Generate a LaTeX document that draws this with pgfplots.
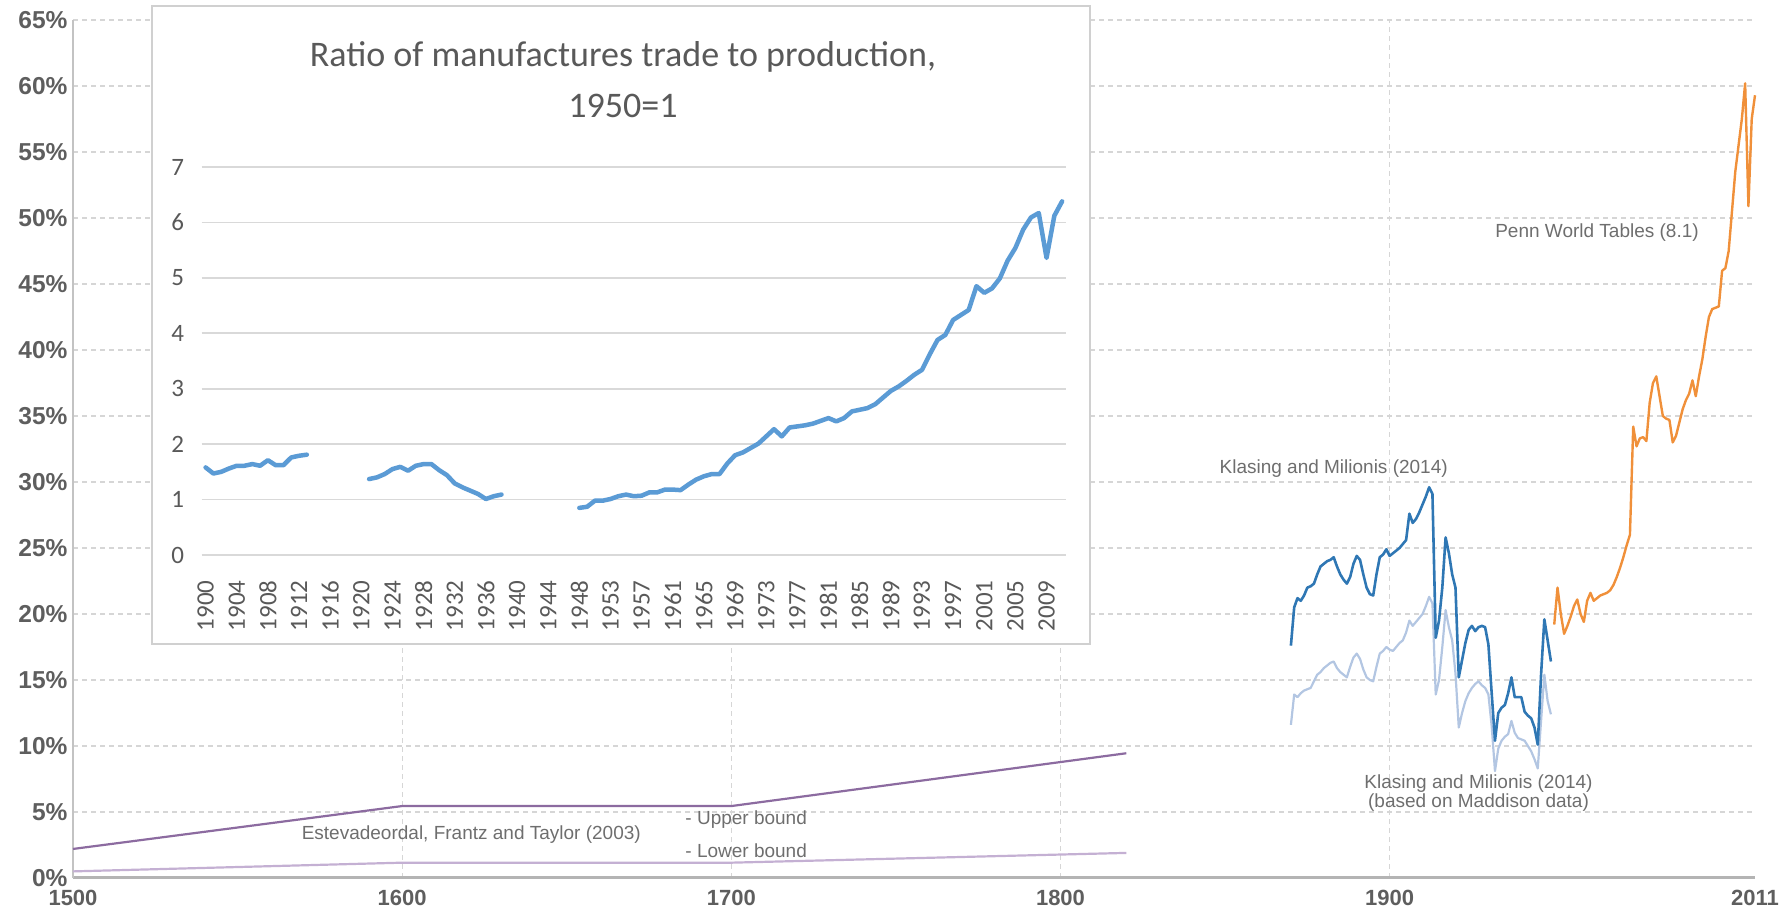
\documentclass[border=0pt]{standalone}
\usepackage{fontspec}
\setmainfont{Liberation Sans}
\newfontfamily\carlito{Carlito}
\usepackage{pgfplots}
\usepackage{pgfplotstable}
\pgfplotsset{compat=1.18}

\definecolor{axisgray}{HTML}{B4B4B4}
\definecolor{gridgray}{HTML}{D6D6D6}
\definecolor{tickgray}{HTML}{5E5E5E}
\definecolor{anngray}{HTML}{6E6E6E}
\definecolor{kmdark}{HTML}{2F77B4}
\definecolor{kmlight}{HTML}{B3C6E2}
\definecolor{pwt}{HTML}{F0903A}
\definecolor{upperc}{HTML}{8C6BA0}
\definecolor{lowerc}{HTML}{C4B0D3}
\definecolor{insetblue}{HTML}{5B9BD5}
\definecolor{insetgrid}{HTML}{D9D9D9}
\definecolor{insettext}{HTML}{595959}
\definecolor{insetborder}{HTML}{D0D0D0}

\newcommand\yticklabfont{\fontsize{24.5}{28}\selectfont\bfseries}
\newcommand\xticklabfont{\fontsize{22}{26}\selectfont\bfseries}
\newcommand\annfont{\fontsize{19}{22}\selectfont}
\newcommand\insetfont{\carlito\fontsize{25}{29}\selectfont}

% Klasing and Milionis (2014): year, main series, Maddison-based series (percent)
\pgfplotstableread{
year dark light
1870 17.6 11.6
1871 20.5 13.9
1872 21.2 13.7
1873 21.0 14.0
1874 21.4 14.2
1875 22.0 14.3
1876 22.1 14.4
1877 22.3 14.9
1878 23.0 15.4
1879 23.6 15.6
1880 23.8 15.9
1881 24.0 16.1
1882 24.1 16.3
1883 24.3 16.4
1884 23.6 15.9
1885 23.0 15.6
1886 22.6 15.4
1887 22.3 15.2
1888 22.8 16.0
1889 23.8 16.7
1890 24.4 17.0
1891 24.1 16.6
1892 23.0 15.8
1893 22.0 15.2
1894 21.5 15.0
1895 21.4 14.9
1896 23.0 16.0
1897 24.3 17.0
1898 24.5 17.2
1899 24.9 17.5
1900 24.4 17.3
1901 24.6 17.2
1902 24.8 17.5
1903 25.0 17.8
1904 25.3 18.0
1905 25.6 18.6
1906 27.6 19.5
1907 26.9 19.1
1908 27.2 19.4
1909 27.7 19.7
1910 28.3 20.0
1911 28.9 20.6
1912 29.6 21.3
1913 29.1 20.8
1914 18.2 13.9
1915 19.5 15.0
1916 22.0 17.5
1917 25.8 20.3
1918 24.6 19.0
1919 23.0 18.0
1920 22.0 15.5
1921 15.2 11.4
1922 16.5 12.5
1923 17.8 13.4
1924 18.8 14.0
1925 19.1 14.4
1926 18.7 14.7
1927 19.0 14.9
1928 19.1 14.6
1929 19.0 14.4
1930 17.7 13.9
1931 14.0 11.5
1932 10.4 8.1
1933 12.5 9.8
1934 12.9 10.4
1935 13.1 10.7
1936 14.0 10.9
1937 15.2 11.9
1938 13.7 11.0
1939 13.7 10.6
1940 13.7 10.5
1941 12.6 10.4
1942 12.3 10.0
1943 12.1 9.6
1944 11.4 9.0
1945 10.1 8.3
1946 15.4 11.9
1947 19.6 15.4
1948 18.0 13.4
1949 16.4 12.4
}\kmtable

% Penn World Tables (8.1)
\pgfplotstableread{
year val
1950 19.2
1951 22.0
1952 20.0
1953 18.5
1954 19.1
1955 19.8
1956 20.6
1957 21.1
1958 20.0
1959 19.4
1960 21.0
1961 21.6
1962 21.0
1963 21.2
1964 21.4
1965 21.5
1966 21.6
1967 21.8
1968 22.2
1969 22.8
1970 23.5
1971 24.3
1972 25.2
1973 26.0
1974 34.2
1975 32.7
1976 33.3
1977 33.4
1978 33.1
1979 36.0
1980 37.5
1981 38.0
1982 36.5
1983 35.0
1984 34.8
1985 34.7
1986 33.0
1987 33.5
1988 34.5
1989 35.5
1990 36.2
1991 36.7
1992 37.7
1993 36.5
1994 38.0
1995 39.3
1996 41.0
1997 42.5
1998 43.1
1999 43.2
2000 43.3
2001 46.0
2002 46.2
2003 47.5
2004 50.5
2005 53.5
2006 55.5
2007 57.5
2008 60.2
2009 50.9
2010 57.5
2011 59.3
}\pwttable

% Inset: ratio of manufactures trade to production (category index, value)
\pgfplotstableread{
idx val
0 1.58
1 1.47
2 1.50
3 1.56
4 1.61
5 1.61
6 1.64
7 1.61
8 1.71
9 1.62
10 1.62
11 1.76
12 1.79
13 1.81
14 nan
21 1.37
22 1.40
23 1.46
24 1.55
25 1.59
26 1.52
27 1.61
28 1.64
29 1.64
30 1.53
31 1.44
32 1.29
33 1.22
34 1.16
35 1.10
36 1.01
37 1.06
38 1.09
39 nan
48 0.85
49 0.87
50 0.98
51 0.98
52 1.01
53 1.06
54 1.09
55 1.06
56 1.07
57 1.13
58 1.13
59 1.18
60 1.18
61 1.17
62 1.27
63 1.36
64 1.42
65 1.46
66 1.46
67 1.65
68 1.80
69 1.85
70 1.93
71 2.01
72 2.14
73 2.27
74 2.14
75 2.30
76 2.32
77 2.34
78 2.37
79 2.42
80 2.47
81 2.41
82 2.47
83 2.59
84 2.62
85 2.65
86 2.72
87 2.84
88 2.96
89 3.04
90 3.14
91 3.25
92 3.34
93 3.62
94 3.88
95 3.97
96 4.24
97 4.33
98 4.42
99 4.85
100 4.73
101 4.81
102 4.99
103 5.31
104 5.54
105 5.87
106 6.09
107 6.17
108 5.36
109 6.12
110 6.38
}\insettable

\begin{document}
\begin{tikzpicture}
\useasboundingbox (0pt,0pt) rectangle (1789pt,909pt);

\begin{axis}[
  at={(73pt,31pt)}, anchor=south west, scale only axis,
  width=1682pt, height=858pt,
  xmin=1500, xmax=2011, ymin=0, ymax=65,
  axis x line*=bottom, axis y line*=left,
  separate axis lines,
  x axis line style={draw=axisgray, line width=3pt},
  y axis line style={draw=axisgray!80, line width=1.5pt},
  xtick={1600,1700,1800,1900},
  extra x ticks={1500,2011}, extra x tick style={grid=none},
  ytick={0,5,...,65},
  grid=major,
  major grid style={draw=gridgray, line width=1.3pt, dash pattern=on 5pt off 4pt},
  major tick length=0pt,
  xticklabel style={font=\xticklabfont, text=tickgray},
  yticklabel style={font=\yticklabfont, text=tickgray},
  /pgf/number format/1000 sep={},
  /pgf/number format/assume math mode=true,
  yticklabel={\pgfmathprintnumber[fixed,precision=0]{\tick}\%},
  xticklabel shift=9pt,
  yticklabel shift=2pt,
  clip=false,
]
\addplot[upperc, line width=2.2pt] coordinates {(1500,2.2) (1600,5.45) (1700,5.45) (1820,9.45)};
\addplot[lowerc, line width=2.2pt] coordinates {(1500,0.5) (1600,1.16) (1700,1.16) (1820,1.9)};
\addplot[kmlight, line width=2.2pt, line join=round] table[x=year, y=light] {\kmtable};
\addplot[kmdark, line width=2.6pt, line join=round] table[x=year, y=dark] {\kmtable};
\addplot[pwt, line width=2.4pt, line join=round] table[x=year, y=val] {\pwttable};

\node[font=\annfont, text=anngray] at (axis cs:1883,31.0) {Klasing and Milionis (2014)};
\node[font=\annfont, text=anngray, align=center, inner sep=0pt] at (axis cs:1927,6.45) {Klasing and Milionis (2014)\\[-3pt](based on Maddison data)};
\node[font=\annfont, text=anngray] at (axis cs:1963,48.9) {Penn World Tables (8.1)};
\node[font=\annfont, text=anngray] at (axis cs:1621,3.26) {Estevadeordal, Frantz and Taylor (2003)};
\node[font=\annfont, text=anngray, anchor=west, inner sep=0pt] at (axis cs:1686,4.39) {- Upper bound};
\node[font=\annfont, text=anngray, anchor=west, inner sep=0pt] at (axis cs:1686,2.05) {- Lower bound};
\end{axis}

\fill[white] (152pt,265pt) rectangle (1090pt,903pt);
\draw[insetborder, line width=1.5pt] (152pt,265pt) rectangle (1090pt,903pt);

\node[font=\carlito\fontsize{36}{40}\selectfont, text=insettext] at (623pt,852pt) {Ratio of manufactures\ trade to production,};
\node[font=\carlito\fontsize{36}{40}\selectfont, text=insettext] at (623pt,803pt) {1950=1};

\begin{axis}[
  at={(201.7pt,354pt)}, anchor=south west, scale only axis,
  width=864.3pt, height=388pt,
  xmin=-0.5, xmax=110.5, ymin=0, ymax=7,
  axis line style={draw=none},
  major tick length=0pt,
  ytick={0,1,...,7},
  ymajorgrids,
  major grid style={draw=insetgrid, line width=1.6pt},
  xtick={0,4,...,108},
  xticklabels={1900,1904,1908,1912,1916,1920,1924,1928,1932,1936,1940,1944,1948,1953,1957,1961,1965,1969,1973,1977,1981,1985,1989,1993,1997,2001,2005,2009},
  xticklabel style={rotate=90, anchor=east},
  xticklabel shift=22pt,
  yticklabel shift=14pt,
  tick label style={font=\insetfont, text=insettext},
  /pgf/number format/assume math mode=true,
  unbounded coords=jump,
  clip=false,
]
\addplot[insetblue, line width=4.5pt, line cap=round, line join=round] table[x=idx, y=val] {\insettable};
\end{axis}
\end{tikzpicture}
\end{document}
